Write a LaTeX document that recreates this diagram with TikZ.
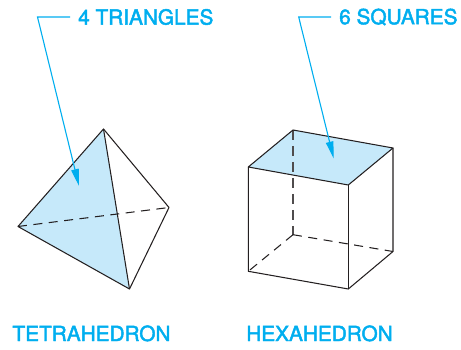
\documentclass[tikz,border=0pt]{standalone}
\usepackage{fontspec}
\setmainfont{TeX Gyre Heros}[FakeBold=2.2]
\usetikzlibrary{arrows.meta}
\definecolor{callout}{HTML}{00AEEF}
\definecolor{facefill}{HTML}{C6E9FA}
\definecolor{edgeink}{HTML}{231F20}
\tikzset{
  edge/.style={draw=edgeink,line width=1.05pt,line join=round},
  hidden/.style={edge,dash pattern=on 9pt off 6.5pt},
  face/.style={fill=facefill,draw=none},
  leader/.style={draw=callout,line width=1.1pt,-{Triangle[length=17pt,width=7.5pt]}},
  callouttext/.style={text=callout,font=\fontsize{20.8pt}{22pt}\selectfont,anchor=west,inner xsep=8pt,inner ysep=0pt},
  titletext/.style={text=callout,font=\fontsize{20.8pt}{22pt}\selectfont,anchor=base,inner sep=0pt}
}
\begin{document}
\begin{tikzpicture}[x=1pt,y=-1pt]
\useasboundingbox (0,0) rectangle (461,350);
% tetrahedron
\coordinate (A) at (103.5,129);
\coordinate (L) at (18,226.5);
\coordinate (R) at (169,207.5);
\coordinate (B) at (129.5,289);
\fill[face] (A) -- (L) -- (B) -- cycle;
\draw[hidden] (L) -- (R);
\draw[edge] (A) -- (L) -- (B) -- (R) -- cycle;
\draw[edge] (A) -- (B);
% hexahedron
\coordinate (TB) at (293,130);
\coordinate (TR) at (393,148);
\coordinate (TL) at (248.3,167);
\coordinate (TF) at (348.3,185);
\coordinate (BB) at (293,234.7);
\coordinate (BR) at (393,251.5);
\coordinate (BL) at (248.3,271.3);
\coordinate (BF) at (348.3,289);
\fill[face] (TB) -- (TR) -- (TF) -- (TL) -- cycle;
\draw[hidden,dash pattern=on 10pt off 6pt,draw=edgeink!80] (TB) -- (BB);
\draw[hidden] (BB) -- (BL);
\draw[hidden] (BB) -- (BR);
\draw[edge] (TB) -- (TR) -- (TF) -- (TL) -- cycle;
\draw[edge] (TL) -- (BL) -- (BF) -- (BR) -- (TR);
\draw[edge] (TF) -- (BF);
% callouts
\node[callouttext] (tri) at (70,17) {4 TRIANGLES};
\node[callouttext] (squ) at (331,17) {6 SQUARES};
\coordinate (triK) at (37.5,17);
\coordinate (triT) at (79,186);
\coordinate (squK) at (298.7,17);
\coordinate (squT) at (333.7,158.5);
\draw[leader] (tri.west) -- (triK) -- (triT);
\draw[leader] (squ.west) -- (squK) -- (squT);
% titles
\node[titletext] (tetra) at (91.5,341) {TETRAHEDRON};
\node[titletext] (hexa) at (319.5,341) {HEXAHEDRON};
\end{tikzpicture}
\end{document}
